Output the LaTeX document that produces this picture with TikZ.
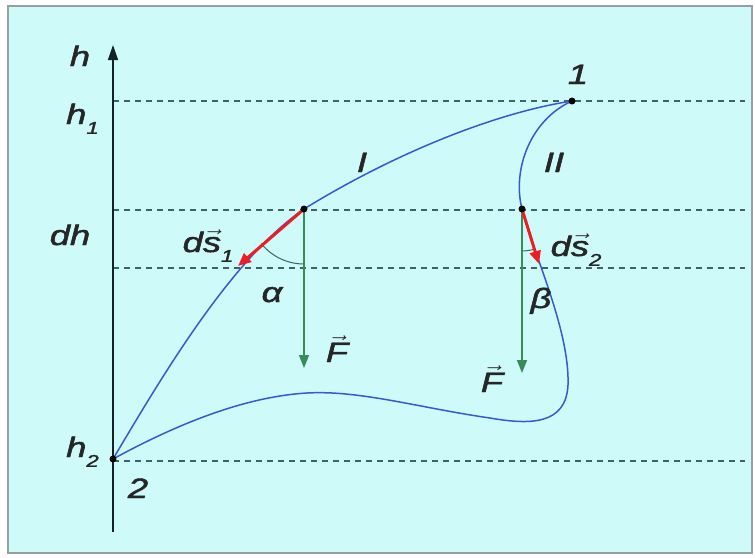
\documentclass[tikz,border=0pt]{standalone}
\usepackage{fontspec}
\setmainfont{Liberation Sans}
\newfontfamily\lblfont[FakeBold=1.6]{Liberation Sans}
\usetikzlibrary{arrows.meta}
\definecolor{bgc}{RGB}{206,250,250}
\definecolor{framec}{RGB}{150,160,160}
\definecolor{dashc}{RGB}{60,100,100}
\definecolor{curvec}{RGB}{55,90,210}
\definecolor{redc}{RGB}{235,30,35}
\definecolor{greenc}{RGB}{55,140,90}
\definecolor{axisc}{RGB}{20,35,40}
\newcommand\wt[1]{\scalebox{1.3}[1]{#1}}
\newcommand\sbs[1]{\raisebox{-0.35em}{\fontsize{17}{17}\selectfont #1}}
\newcommand\vecl[1]{$\vec{\mbox{#1}}$}
\begin{document}
\begin{tikzpicture}[x=1pt,y=-1pt,
  lbl/.style={font=\fontsize{28}{28}\lblfont\itshape, inner sep=0pt, text=black!85},
  hline/.style={dashc, line width=1.6pt, dash pattern=on 6pt off 5pt},
  curve/.style={curvec, line width=1.5pt},
  dsarrow/.style={redc, line width=3pt, -{Triangle[length=13pt,width=11pt]}},
  farrow/.style={greenc, line width=1.6pt, -{Triangle[length=13pt,width=10pt]}},
  angarc/.style={dashc, line width=1pt}]
\useasboundingbox (0,0) rectangle (755,557);
\fill[white] (0,0) rectangle (755,557);
\draw[framec, line width=1.5pt, fill=bgc] (8,6) rectangle (752,553);

% coordinates
\coordinate (P1) at (572,101);
\coordinate (P2) at (113,459);
\coordinate (A) at (304,209);
\coordinate (B) at (522,209);
\coordinate (As) at (238,266);
\coordinate (Bs) at (539,264);
\coordinate (AF) at (304,368);
\coordinate (BF) at (522,373);
\coordinate (axbot) at (113,532);
\coordinate (axtop) at (113,45);
\coordinate (C1) at (568,385);
\coordinate (C2) at (490,418);
\coordinate (C3) at (307,393);

% dashed levels
\coordinate (d1a) at (113,101); \coordinate (d1b) at (745,101);
\coordinate (d2a) at (113,210); \coordinate (d2b) at (745,210);
\coordinate (d3a) at (113,268); \coordinate (d3b) at (745,268);
\coordinate (d4a) at (113,461); \coordinate (d4b) at (745,461);
\draw[hline] (d1a) -- (d1b);
\draw[hline] (d2a) -- (d2b);
\draw[hline] (d3a) -- (d3b);
\draw[hline] (d4a) -- (d4b);

% axis
\draw[axisc, line width=1.5pt, -{Triangle[length=15pt,width=10pt]}] (axbot) -- (axtop);

% curve I
\draw[curve] (P2) .. controls (160,380) and (230,260) .. (A)
  .. controls (400,150) and (500,112) .. (P1);
% curve II and bottom
\draw[curve] (P1) .. controls (530,120) and (512,170) .. (B)
  .. controls (532,250) and (570,330) .. (C1)
  .. controls (566,425) and (530,425) .. (C2)
  .. controls (420,408) and (360,390) .. (C3)
  .. controls (240,397) and (170,428) .. (P2);

% angle arcs
\draw[angarc] (304,264) arc[start angle=90, end angle=141, radius=55];
\draw[angarc] (522,251) arc[start angle=90, end angle=73, radius=42];

% vectors
\draw[farrow] (A) -- (AF);
\draw[farrow] (B) -- (BF);
\draw[dsarrow] (A) -- (As);
\draw[dsarrow] (B) -- (Bs);

% dots
\foreach \p in {P1,P2,A,B} \fill[black] (\p) circle (3.5);

% labels
\node[lbl, anchor=base] (lh) at (80,66) {\wt{h}};
\node[lbl, anchor=base west] (lh1) at (66,124) {\wt{h\sbs{1}}};
\node[lbl, anchor=base] (ldh) at (70,245) {\wt{dh}};
\node[lbl, anchor=base west] (lh2) at (66,457) {\wt{h\sbs{2}}};
\node[lbl, anchor=base] (l1) at (578,84) {\wt{1}};
\node[lbl, anchor=base] (l2) at (138,498) {\wt{2}};
\node[lbl, anchor=base] (lI) at (362,172) {\wt{I}};
\node[lbl, anchor=base] (lII) at (554,172) {\wt{II}};
\node[lbl, anchor=base] (lds1) at (208,252) {\wt{d\vecl{s}\sbs{1}}};
\node[lbl, anchor=base] (lds2) at (576,256) {\wt{d\vecl{s}\sbs{2}}};
\node[lbl, anchor=base] (lal) at (272,302) {\wt{α}};
\node[lbl, anchor=base] (lbe) at (541,308) {\wt{β}};
\node[lbl, anchor=base] (lF1) at (337,362) {\wt{\vecl{F}}};
\node[lbl, anchor=base] (lF2) at (492,392) {\wt{\vecl{F}}};
\end{tikzpicture}
\end{document}
